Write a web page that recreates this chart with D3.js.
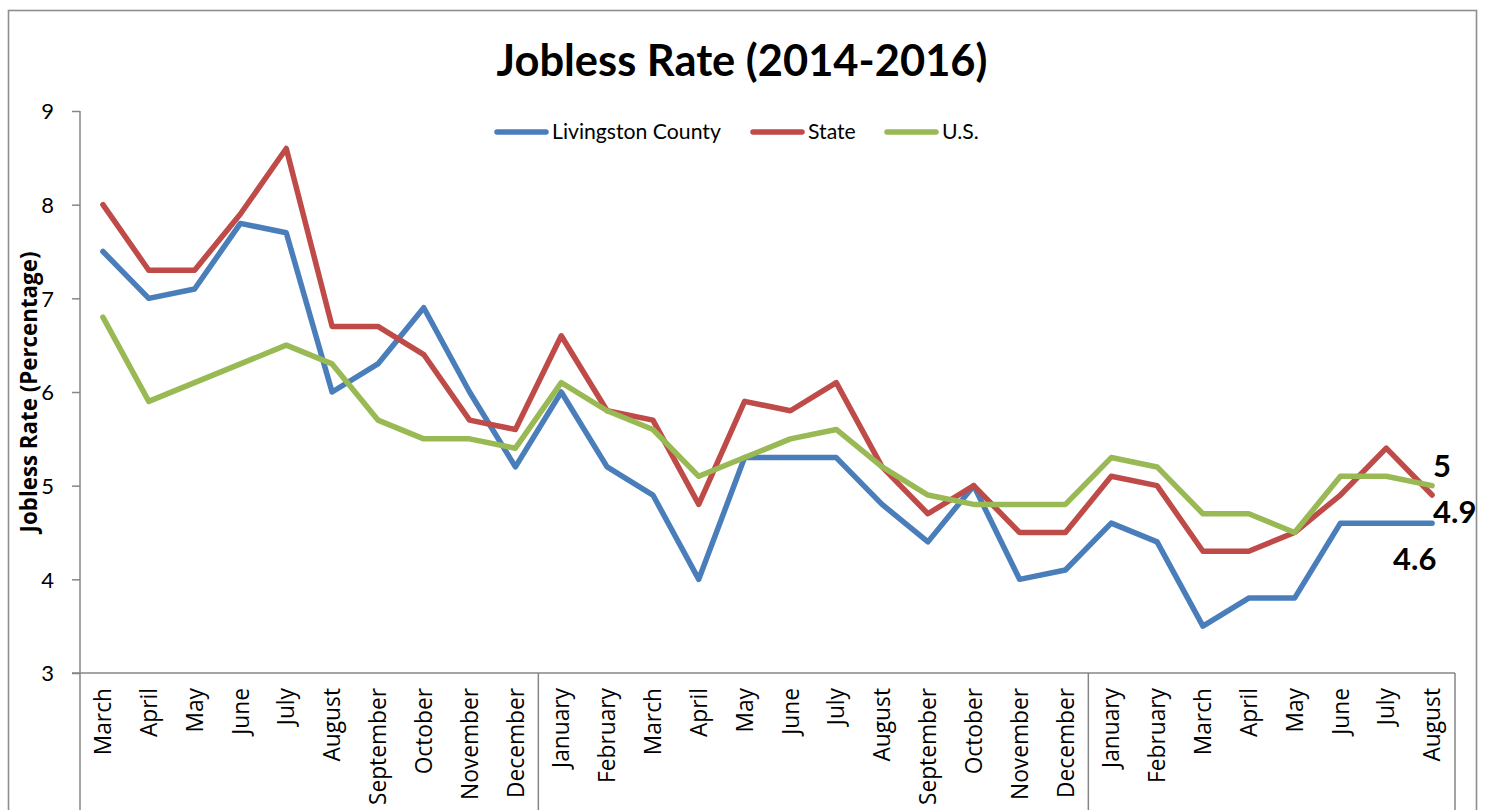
<!DOCTYPE html>
<html>
<head>
<meta charset="utf-8">
<script src="https://cdn.jsdelivr.net/npm/d3@7"></script>
<style>
  html, body { margin: 0; padding: 0; background: #fff; }
  svg { display: block; }
</style>
</head>
<body>
<svg id="chart" width="1490" height="810"></svg>
<script>
// ---- Data ----
const months = ["March","April","May","June","July","August","September","October","November","December",
  "January","February","March","April","May","June","July","August","September","October","November","December",
  "January","February","March","April","May","June","July","August"];
const groupBreaks = [10, 22]; // index where a new year starts (2015, 2016)
const seriesNames = ["Livingston County", "State", "U.S."];
const livingston = [7.5,7.0,7.1,7.8,7.7,6.0,6.3,6.9,6.0,5.2, 6.0,5.2,4.9,4.0,5.3,5.3,5.3,4.8,4.4,5.0,4.0,4.1, 4.6,4.4,3.5,3.8,3.8,4.6,4.6,4.6];
const state      = [8.0,7.3,7.3,7.9,8.6,6.7,6.7,6.4,5.7,5.6, 6.6,5.8,5.7,4.8,5.9,5.8,6.1,5.2,4.7,5.0,4.5,4.5, 5.1,5.0,4.3,4.3,4.5,4.9,5.4,4.9];
const us         = [6.8,5.9,6.1,6.3,6.5,6.3,5.7,5.5,5.5,5.4, 6.1,5.8,5.6,5.1,5.3,5.5,5.6,5.2,4.9,4.8,4.8,4.8, 5.3,5.2,4.7,4.7,4.5,5.1,5.1,5.0];
const yTicks = [3,4,5,6,7,8,9];
const titleText = "Jobless Rate (2014-2016)";
const yTitleText = "Jobless Rate (Percentage)";

// ---- Styles ----
const colors = ["#4A7EBB", "#BE4B48", "#98B954"];
const axisColor = "#868686";
const calibri = "Lato, 'Open Sans', sans-serif";
const segoe = "'Open Sans', 'Noto Sans', sans-serif";

const svg = d3.select("#chart");
svg.append("rect").attr("width", 1490).attr("height", 810).attr("fill", "#fff");

// outer chart border
svg.append("rect").attr("x", 8.5).attr("y", 10.5).attr("width", 1468).attr("height", 830)
  .attr("fill", "none").attr("stroke", "#8e8e8e").attr("stroke-width", 1.6);

const plot = { left: 80, right: 1455, top: 111, bottom: 673 };

const x = d3.scaleBand().domain(d3.range(months.length)).range([plot.left, plot.right]).padding(0);
const y = d3.scaleLinear().domain([3, 9]).range([plot.bottom, plot.top]);

function fit(sel, target) {
  const node = sel.node();
  const base = parseFloat(sel.attr("font-size"));
  const len = node.getComputedTextLength();
  if (len > 0) sel.attr("font-size", base * target / len);
  return sel;
}

// ---- Y axis ----
const yAxis = d3.axisLeft(y).tickValues(yTicks).tickSize(8).tickPadding(0).tickFormat(d3.format("d"));
const gy = svg.append("g").attr("transform", `translate(${plot.left},0)`).call(yAxis);
gy.select(".domain").remove();
gy.selectAll(".tick line").attr("stroke", axisColor).attr("stroke-width", 1.5);
gy.selectAll(".tick text").attr("x", -26).attr("dy", "0.35em")
  .attr("font-family", calibri).attr("font-size", 22).attr("fill", "#000");
// y axis line extended through category band
svg.append("line").attr("x1", plot.left).attr("x2", plot.left)
  .attr("y1", plot.top).attr("y2", 810).attr("stroke", axisColor).attr("stroke-width", 1.5);

// ---- X axis ----
const xAxis = d3.axisBottom(x).tickSize(0).tickPadding(0).tickFormat(i => months[i]);
const gx = svg.append("g").attr("transform", `translate(0,${plot.bottom})`).call(xAxis);
gx.select(".domain").remove();
const catTexts = gx.selectAll(".tick text")
  .attr("font-family", segoe).attr("font-size", 20).attr("fill", "#000")
  .attr("text-anchor", "end").attr("transform", "rotate(-90)")
  .attr("x", -15).attr("y", 0).attr("dy", "0.36em");
// fit font size from "December"
{
  const dec = catTexts.filter((d) => months[d] === "December").node();
  const len = dec.getComputedTextLength();
  const fs = 20 * 110 / len;
  catTexts.attr("font-size", fs);
}
svg.append("line").attr("x1", plot.left - 8).attr("x2", plot.right)
  .attr("y1", plot.bottom).attr("y2", plot.bottom).attr("stroke", axisColor).attr("stroke-width", 1.5);
// group separators
const seps = groupBreaks.map(i => x(i)).concat([plot.right]);
svg.selectAll(".sep").data(seps).enter().append("line")
  .attr("x1", d => d).attr("x2", d => d).attr("y1", plot.bottom).attr("y2", 810)
  .attr("stroke", axisColor).attr("stroke-width", 1.5);

// ---- Lines ----
const allSeries = [livingston, state, us];
const line = d3.line().x((d, i) => x(i) + x.bandwidth() / 2).y(d => y(d));
svg.selectAll(".series").data(allSeries).enter().append("path")
  .attr("d", d => line(d)).attr("fill", "none")
  .attr("stroke", (d, i) => colors[i]).attr("stroke-width", 5.5)
  .attr("stroke-linejoin", "round").attr("stroke-linecap", "round");

// ---- Data labels at last point ----
const lastI = months.length - 1;
const lx = x(lastI) + x.bandwidth() / 2;
const labelDefs = [
  { v: us[lastI], dx: 1, dy: -9 },
  { v: state[lastI], dx: 1, dy: 28 },
  { v: livingston[lastI], dx: -39, dy: 47 }
];
labelDefs.forEach(l => {
  svg.append("text").attr("x", lx + l.dx).attr("y", y(l.v) + l.dy)
    .attr("font-family", calibri).attr("font-weight", "bold").attr("font-size", 31)
    .attr("fill", "#000").text(d3.format("")(l.v));
});

// ---- Title ----
const title = svg.append("text").attr("x", 742).attr("y", 76).attr("text-anchor", "middle")
  .attr("font-family", calibri).attr("font-weight", "bold").attr("font-size", 40)
  .attr("fill", "#000").text(titleText);
fit(title, 491);

// ---- Y axis title ----
const yt = svg.append("text").attr("transform", "translate(37,392) rotate(-90)")
  .attr("text-anchor", "middle").attr("font-family", segoe).attr("font-weight", "bold")
  .attr("font-size", 18).attr("fill", "#000").text(yTitleText);
fit(yt, 281);

// ---- Legend ----
const legendX = [495, 751, 885];
const lg = svg.append("g");
let legendFont = null;
seriesNames.forEach((name, i) => {
  lg.append("line").attr("x1", legendX[i] + 2).attr("x2", legendX[i] + 51)
    .attr("y1", 132).attr("y2", 132).attr("stroke", colors[i]).attr("stroke-width", 5.5)
    .attr("stroke-linecap", "round");
  const t = lg.append("text").attr("x", legendX[i] + 57).attr("y", 139)
    .attr("font-family", calibri).attr("font-size", 20).attr("fill", "#000").text(name);
  if (i === 0) { fit(t, 169); legendFont = t.attr("font-size"); }
  else t.attr("font-size", legendFont);
});
</script>
</body>
</html>
